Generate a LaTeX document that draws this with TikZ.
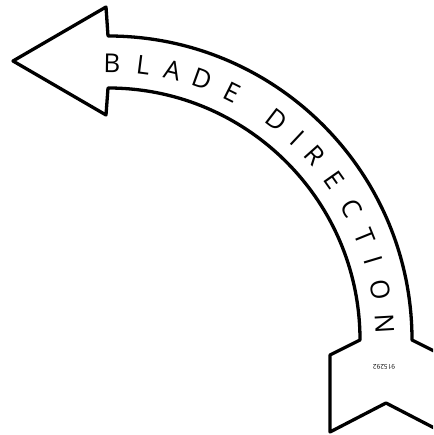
\documentclass[tikz,border=0pt]{standalone}
\usepackage{fontspec}
\setmainfont{Open Sans}
\begin{document}
\begin{tikzpicture}[x=1pt,y=1pt,
  outline/.style={draw=black,line width=3.3pt,line join=round,fill=white},
  lettr/.style={font=\fontsize{26}{26}\selectfont,inner sep=0pt,anchor=center},
  tiny/.style={font=\fontsize{6.5}{6.5}\selectfont,inner sep=0pt}]
\useasboundingbox (0,0) rectangle (433,435);
\clip (0,0) rectangle (433,435);
\coordinate (C) at (108,95);
\coordinate (tip) at (13,374);
\coordinate (bt) at (106,428);
\coordinate (bb) at (106,320);
\draw[outline] (tip) -- (bt) -- (108,399)
  arc[start angle=90,end angle=0,radius=304]
  -- (442,80) -- (442,3) -- (386,32) -- (330,3) -- (330,80) -- (360,95)
  arc[start angle=0,end angle=90,radius=252]
  -- (bb) -- cycle;
\begin{scope}[shift={(108,95)}]
\foreach \a/\l [count=\i] in {89.2/B,82.7/L,76.5/A,70.2/D,63.4/E,52.5/D,46.8/I,41.8/R,35.2/E,28.4/C,22.0/T,16.7/I,10.4/O,3.3/N}
  \node[lettr,rotate=\a-90] (l\i) at (\a:277) {\l};
\end{scope}
\node[tiny,rotate=180] (code) at (384,68) {915292};
\end{tikzpicture}
\end{document}
